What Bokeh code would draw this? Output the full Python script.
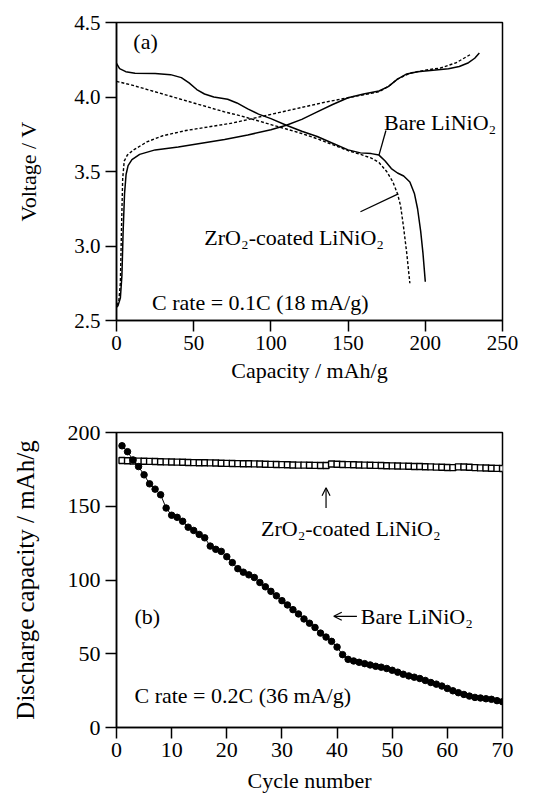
from bokeh.plotting import figure
from bokeh.layouts import column
from bokeh.models import Label, FixedTicker, Range1d, Arrow, OpenHead, CustomJSTickFormatter
from bokeh.embed import file_html
from bokeh.resources import INLINE

FONT = "Liberation Serif"

# ---------- (a) charge / discharge curves ----------
bare_charge_cap = [0, 1, 2.5, 3.5, 4.3, 5.2, 6.2, 7.5, 10, 15, 25, 40, 55, 70, 85, 100, 110, 120, 130, 140,
                   150, 160, 170, 176, 182, 188, 195, 205, 215, 222, 228, 232, 235]
bare_charge_v = [2.59, 2.6, 2.65, 2.8, 3.1, 3.35, 3.48, 3.54, 3.58, 3.615, 3.645, 3.665, 3.69, 3.715, 3.745,
                 3.78, 3.81, 3.85, 3.9, 3.95, 3.995, 4.02, 4.04, 4.07, 4.12, 4.155, 4.17, 4.18, 4.19, 4.205,
                 4.23, 4.26, 4.295]
bare_dis_cap = [0, 2, 6, 12, 25, 35, 42, 47, 52, 57, 63, 72, 78, 85, 92, 100, 110, 120, 130, 140, 150, 158,
                165, 170, 174, 178, 182, 186, 190, 193, 195, 197, 198.5, 200]
bare_dis_v = [4.225, 4.19, 4.17, 4.16, 4.157, 4.15, 4.13, 4.095, 4.05, 4.02, 4.0, 3.985, 3.96, 3.92, 3.885,
              3.855, 3.81, 3.77, 3.735, 3.69, 3.645, 3.625, 3.62, 3.61, 3.57, 3.52, 3.49, 3.47, 3.43, 3.35,
              3.25, 3.1, 2.95, 2.76]
zr_charge_cap = [0.3, 1.5, 2.5, 3.2, 4, 5, 7, 11, 20, 30, 45, 60, 75, 90, 105, 120, 135, 150, 160, 170, 176,
                 182, 190, 200, 210, 220, 230]
zr_charge_v = [2.6, 2.63, 2.75, 3.1, 3.45, 3.57, 3.61, 3.645, 3.7, 3.74, 3.775, 3.8, 3.825, 3.86, 3.895,
               3.93, 3.965, 3.995, 4.015, 4.035, 4.07, 4.12, 4.16, 4.18, 4.195, 4.23, 4.29]
zr_dis_cap = [0, 10, 20, 30, 40, 50, 60, 70, 80, 90, 100, 110, 120, 130, 140, 150, 158, 165, 170, 175, 179,
              182, 184, 186, 188, 190]
zr_dis_v = [4.105, 4.08, 4.05, 4.02, 3.99, 3.96, 3.93, 3.90, 3.875, 3.845, 3.815, 3.785, 3.755, 3.72, 3.68,
            3.64, 3.615, 3.59, 3.56, 3.5, 3.43, 3.35, 3.27, 3.12, 2.95, 2.75]

# ---------- (b) cycling ----------
cycles = list(range(1, 71))
bare_capacity = [191.0, 187.0, 181.4, 176.9, 171.3, 165.2, 161.6, 157.8, 148.8, 143.9,
                 142.5, 139.8, 135.8, 133.6, 130.9, 128.6, 123.0, 120.8, 119.4, 115.8,
                 111.8, 107.7, 105.3, 103.5, 101.7, 98.3, 95.4, 92.3, 89.3, 86.0,
                 83.1, 79.9, 77.0, 73.6, 70.7, 67.8, 64.0, 61.3, 58.4, 54.5,
                 49.4, 46.2, 45.1, 44.2, 43.3, 42.4, 41.5, 40.9, 40.0, 38.8,
                 37.5, 36.1, 35.0, 34.1, 33.2, 31.9, 30.5, 29.4, 28.1, 26.5,
                 24.9, 23.6, 22.4, 21.3, 20.4, 20.0, 19.5, 19.1, 18.2, 17.5]
zr_capacity = [181.0, 180.8, 180.7, 180.6, 180.5, 180.4,
               180.3, 180.2, 180.1, 180.0, 179.9, 179.8,
               179.7, 179.6, 179.5, 179.5, 179.4, 179.3,
               179.2, 179.1, 179.0, 178.9, 178.8, 178.8,
               178.7, 178.6, 178.5, 178.4, 178.3, 178.2,
               178.1, 178.0, 177.9, 177.9, 177.8, 177.7,
               177.6, 177.6, 178.6, 178.5,
               178.3, 178.2, 178.1, 178.0, 177.9, 177.8,
               177.7, 177.6, 177.5, 177.4, 177.3, 177.2,
               177.1, 177.0, 176.9, 176.8, 176.7, 176.5,
               176.4, 176.3, 176.2, 176.7,
               176.6, 176.4, 176.2, 176.0, 175.9, 175.8, 175.7, 175.6]

voltage_ticks = [2.5, 3.0, 3.5, 4.0, 4.5]
capacity_ticks = [0, 50, 100, 150, 200, 250]
cycle_ticks = [0, 10, 20, 30, 40, 50, 60, 70]
dcap_ticks = [0, 50, 100, 150, 200]


def style(p, xticks, yticks, tick_size, xlab_size, ylab_size):
    p.outline_line_color = "black"
    p.outline_line_width = 1.5
    p.xgrid.visible = False
    p.ygrid.visible = False
    p.background_fill_color = "white"
    p.border_fill_color = "white"
    for ax in (p.xaxis[0], p.yaxis[0]):
        ax.axis_line_color = "black"
        ax.axis_line_width = 1.5
        ax.major_tick_line_color = "black"
        ax.major_tick_line_width = 1.5
        ax.major_tick_out = 11
        ax.major_tick_in = 0
        ax.minor_tick_line_color = None
        ax.major_label_text_font = FONT
        ax.major_label_text_font_size = tick_size
        ax.major_label_text_color = "black"
        ax.axis_label_text_font = FONT
        ax.axis_label_text_font_style = "normal"
        ax.axis_label_text_color = "black"
    p.xaxis[0].axis_label_text_font_size = xlab_size
    p.yaxis[0].axis_label_text_font_size = ylab_size
    p.xaxis[0].ticker = FixedTicker(ticks=xticks)
    p.yaxis[0].ticker = FixedTicker(ticks=yticks)
    p.xaxis[0].major_label_standoff = 4
    p.yaxis[0].major_label_standoff = 5
    p.xaxis[0].axis_label_standoff = 5
    p.yaxis[0].axis_label_standoff = 30


def lab(p, x, y, text, size="22px", align="left"):
    p.add_layout(Label(x=x, y=y, text=text, text_font=FONT, text_font_size=size,
                       text_baseline="middle", text_align=align, text_color="black"))


def arrow(p, x0, y0, x1, y1):
    p.add_layout(Arrow(end=OpenHead(size=8, line_width=1.2, line_color="black"),
                       x_start=x0, y_start=y0, x_end=x1, y_end=y1,
                       line_color="black", line_width=1.2))


# ---- top figure ----
p1 = figure(width=544, height=395, output_backend="svg", toolbar_location=None,
            x_range=Range1d(0, 250), y_range=Range1d(2.5, 4.5),
            min_border_left=116, min_border_right=37, min_border_top=22, min_border_bottom=75,
            x_axis_label="Capacity / mAh/g", y_axis_label="Voltage / V")
style(p1, capacity_ticks, voltage_ticks, "21px", "22px", "22px")
p1.yaxis[0].formatter = CustomJSTickFormatter(code="return tick.toFixed(1);")

p1.line(bare_charge_cap, bare_charge_v, line_color="black", line_width=1.5)
p1.line(bare_dis_cap, bare_dis_v, line_color="black", line_width=1.5)
p1.line(zr_charge_cap, zr_charge_v, line_color="black", line_width=1.4, line_dash="3 2")
p1.line(zr_dis_cap, zr_dis_v, line_color="black", line_width=1.4, line_dash="3 2")
# leader lines
p1.line([170, 174.5], [3.61, 3.775], line_color="black", line_width=1.3)
p1.line([158, 182.5], [3.23, 3.35], line_color="black", line_width=1.3)

lab(p1, 10.9, 4.372, "(a)")
lab(p1, 173.3, 3.829, "Bare LiNiO₂")
lab(p1, 56.9, 3.057, "ZrO₂-coated LiNiO₂")
lab(p1, 23.0, 2.621, "C rate = 0.1C (18 mA/g)")

# ---- bottom figure ----
p2 = figure(width=544, height=400, output_backend="svg", toolbar_location=None,
            x_range=Range1d(0, 70), y_range=Range1d(0, 200),
            min_border_left=115, min_border_right=42, min_border_top=37, min_border_bottom=66,
            x_axis_label="Cycle number", y_axis_label="Discharge capacity / mAh/g")
style(p2, cycle_ticks, dcap_ticks, "22px", "22px", "25px")
p2.xaxis[0].axis_label_standoff = 8
p2.yaxis[0].axis_label_standoff = 26

p2.line(cycles, zr_capacity, line_color="black", line_width=1)
p2.scatter(cycles, zr_capacity, marker="square", size=6, fill_color="white",
           line_color="black", line_width=1.4)
p2.line(cycles, bare_capacity, line_color="black", line_width=1)
p2.scatter(cycles, bare_capacity, marker="circle", size=6.5, fill_color="black", line_color="black")

arrow(p2, 38.0, 148.8, 38.0, 162.5)
lab(p2, 26.2, 134.7, "ZrO₂-coated LiNiO₂")
lab(p2, 3.26, 75.4, "(b)")
arrow(p2, 43.6, 75.4, 39.4, 75.4)
lab(p2, 44.3, 75.4, "Bare LiNiO₂")
lab(p2, 3.26, 21.5, "C rate = 0.2C (36 mA/g)")

layout = column(p1, p2, spacing=0)
open("out.html", "w").write(file_html(layout, INLINE))
